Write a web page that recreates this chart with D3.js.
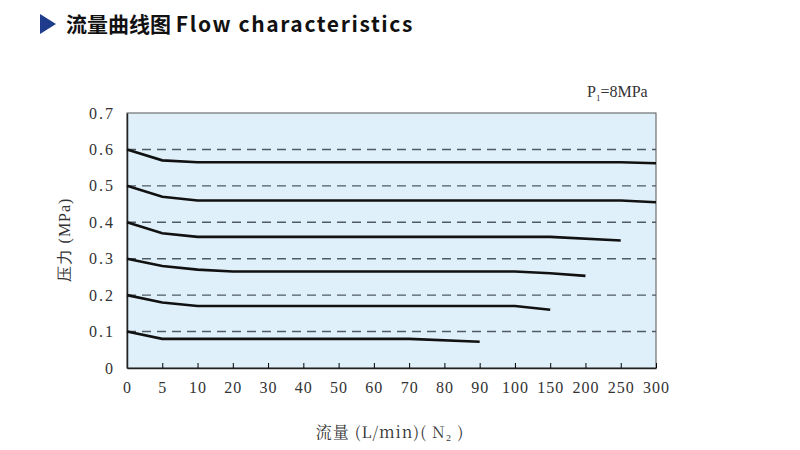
<!DOCTYPE html>
<html><head><meta charset="utf-8">
<script src="https://cdn.jsdelivr.net/npm/d3@7"></script>
<style>body{margin:0;background:#fff}</style></head>
<body><svg id="c" width="800" height="450"></svg>
<script>
const xTicks = [0, 5, 10, 20, 30, 40, 50, 60, 70, 80, 90, 100, 150, 200, 250, 300];
const yTicks = [0, 0.1, 0.2, 0.3, 0.4, 0.5, 0.6, 0.7];
const curve06 = [[0, .6], [5, .57], [10, .565], [250, .565], [300, .562]];
const curve05 = [[0, .5], [5, .47], [10, .46], [250, .46], [300, .455]];
const curve04 = [[0, .4], [5, .37], [10, .36], [150, .36], [250, .35]];
const curve03 = [[0, .3], [5, .28], [10, .27], [20, .265], [100, .265], [150, .26], [200, .253]];
const curve02 = [[0, .2], [5, .18], [10, .17], [100, .17], [150, .16]];
const curve01 = [[0, .1], [5, .08], [70, .08], [90, .072]];
const curves = [curve06, curve05, curve04, curve03, curve02, curve01];

const svg = d3.select('#c');
const L = 127, R = 656, T = 113, B = 368;
// x axis positions are evenly spaced per tick, not linear in value
const x = d3.scaleLinear().domain(xTicks)
	.range(xTicks.map((d, i) => L + i * (R - L) / (xTicks.length - 1)));
const y = d3.scaleLinear().domain([0, 0.7]).range([B, T]);
const serif = '"Liberation Serif","DejaVu Serif",serif';

// title
svg.append('path').attr('d', 'M40,14 L56,24 L40,34 Z').attr('fill', '#1f3c8c');
svg.append('text').attr('x', 66).attr('y', 32).attr('font-family', '"Noto Sans CJK SC",sans-serif')
	.attr('font-weight', 'bold').attr('font-size', 21).attr('fill', '#111')
	.html('流量曲线图 <tspan letter-spacing="1.6">Flow characteristics</tspan>');

svg.append('rect').attr('x', L).attr('y', T).attr('width', R - L).attr('height', B - T)
	.attr('fill', '#dff0fa').attr('stroke', '#555').attr('stroke-width', 1);

svg.selectAll('.grid').data(yTicks.filter(d => d > 0 && d < 0.7)).join('line')
	.attr('x1', L).attr('x2', R).attr('y1', d => y(d)).attr('y2', d => y(d))
	.attr('stroke', '#4f5a63').attr('stroke-width', 1.4).attr('stroke-dasharray', '9,6');

const xAxis = svg.append('g').attr('transform', `translate(0,${B})`)
	.call(d3.axisBottom(x).tickValues(xTicks).tickSize(-5).tickSizeOuter(0).tickPadding(14));
xAxis.select('.domain').attr('stroke', '#222').attr('stroke-width', 1.5);
xAxis.selectAll('text').attr('font-family', serif).attr('font-size', 16).attr('letter-spacing', 1).attr('fill', '#333');

const yAxis = svg.append('g').attr('transform', `translate(${L},0)`)
	.call(d3.axisLeft(y).tickValues(yTicks).tickSize(0).tickPadding(12).tickFormat(d => d === 0 ? '0' : d3.format('.1f')(d)));
yAxis.select('.domain').attr('stroke', '#222').attr('stroke-width', 1.5);
yAxis.selectAll('text').attr('font-family', serif).attr('font-size', 16).attr('letter-spacing', 2).attr('fill', '#333');

const line = d3.line().x(d => x(d[0])).y(d => y(d[1]));
svg.selectAll('.curve').data(curves).join('path')
	.attr('d', line).attr('fill', 'none').attr('stroke', '#111').attr('stroke-width', 2.6);

svg.append('text').attr('x', 587).attr('y', 97).attr('font-family', serif).attr('font-size', 16).attr('fill', '#333')
	.html('P<tspan font-size="9" dy="4">1</tspan><tspan dy="-4">=8MPa</tspan>');
svg.append('text').attr('x', 390).attr('y', 438).attr('text-anchor', 'middle').attr('font-family', '"Noto Serif CJK SC",' + serif)
	.attr('font-size', 16).attr('letter-spacing', 1).attr('fill', '#333').text('流量 (L/min)( N₂ )');
svg.append('text').attr('transform', 'translate(70,240) rotate(-90)').attr('text-anchor', 'middle')
	.attr('font-family', serif).attr('font-size', 16).attr('letter-spacing', 1).attr('fill', '#333').text('压力 (MPa)');
</script></body></html>
